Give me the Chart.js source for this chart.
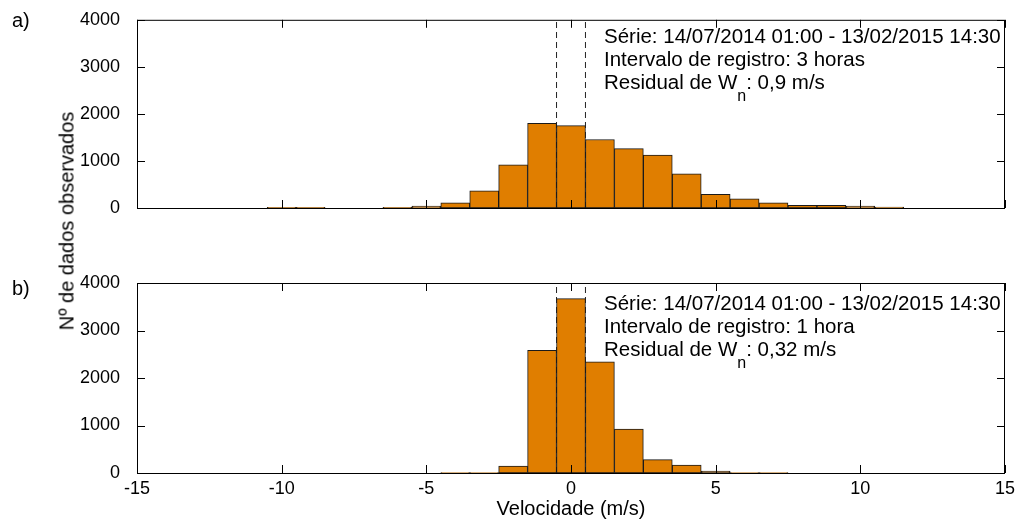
<!DOCTYPE html>
<html>
<head>
<meta charset="utf-8">
<script src="https://cdn.jsdelivr.net/npm/chart.js@4/dist/chart.umd.min.js"></script>
<style>
  html, body { margin: 0; padding: 0; background: #fff; }
  body { width: 1024px; height: 523px; position: relative; overflow: hidden;
         font-family: "Liberation Sans", Arial, sans-serif; color: #000; }
  canvas { position: absolute; left: 0; }
  #chartA { top: 0; }
  #chartB { top: 260px; }
  .note { position: absolute; left: 604px; font-size: 20.5px; line-height: 23px; white-space: nowrap; }
  .note sub { font-size: 16px; vertical-align: -12px; line-height: 0; }
  .tag { position: absolute; left: 12px; font-size: 20px; }
  #ytitle { position: absolute; left: 67px; top: 221px; font-size: 20px; white-space: nowrap;
            transform: translate(-50%, -50%) rotate(-90deg); }
</style>
</head>
<body>
<canvas id="chartA" width="1024" height="240"></canvas>
<canvas id="chartB" width="1024" height="263"></canvas>

<div class="tag" style="top:9px;">a)</div>
<div class="tag" style="top:277px;">b)</div>
<div id="ytitle">Nº de dados observados</div>

<div class="note" style="top:24px;">
  Série: 14/07/2014 01:00 - 13/02/2015 14:30<br>
  Intervalo de registro: 3 horas<br>
  Residual de W<sub>n</sub>: 0,9 m/s
</div>
<div class="note" style="top:291px;">
  Série: 14/07/2014 01:00 - 13/02/2015 14:30<br>
  Intervalo de registro: 1 hora<br>
  Residual de W<sub>n</sub>: 0,32 m/s
</div>

<script>
// bin centres (m/s), width 1
const bins = [-14, -13, -12, -11, -10, -9, -8, -7, -6, -5, -4, -3, -2, -1, 0,
              1, 2, 3, 4, 5, 6, 7, 8, 9, 10, 11, 12, 13, 14];
// a) 3 hour interval
const countsA = [0, 0, 0, 0, 12, 12, 0, 0, 12, 40, 110, 365, 915, 1800, 1750,
                 1455, 1262, 1123, 728, 291, 194, 111, 55, 55, 40, 20, 0, 0, 0];
// b) 1 hour interval
const countsB = [0, 0, 0, 0, 0, 0, 0, 0, 0, 0, 10, 10, 147, 2580, 3670,
                 2340, 925, 280, 168, 42, 10, 10, 0, 0, 0, 0, 0, 0, 0];
const dashedX = [-0.5, 0.5];
const xTicks = [-15, -10, -5, 0, 5, 10, 15];
const yTicks = [0, 1000, 2000, 3000, 4000];

Chart.defaults.font.family = '"Liberation Sans", Arial, sans-serif';
Chart.defaults.color = '#000';

const BAR_FILL = '#e07e00';

// box around the axes with inward tick marks on all four sides
const framePlugin = {
  id: 'frame',
  afterDatasetsDraw(chart) {
    const { ctx, chartArea: a, scales: { x, y } } = chart;
    const len = 8;
    ctx.save();
    ctx.strokeStyle = '#000';
    ctx.lineWidth = 1;
    ctx.strokeRect(a.left + 0.5, a.top + 0.5, a.right - a.left - 1, a.bottom - a.top);
    ctx.beginPath();
    xTicks.forEach(v => {
      const px = Math.round(x.getPixelForValue(v)) + 0.5;
      ctx.moveTo(px, a.bottom); ctx.lineTo(px, a.bottom - len);
      ctx.moveTo(px, a.top); ctx.lineTo(px, a.top + len);
    });
    yTicks.forEach(v => {
      const py = Math.round(y.getPixelForValue(v)) + 0.5;
      ctx.moveTo(a.left, py); ctx.lineTo(a.left + len, py);
      ctx.moveTo(a.right, py); ctx.lineTo(a.right - len, py);
    });
    ctx.stroke();
    ctx.restore();
  }
};

function makeChart(id, counts, opts) {
  const bars = bins.map((b, i) => ({ x: b, y: counts[i] > 0 ? counts[i] : null }));
  const lines = dashedX.map(v => ({
    type: 'line',
    data: [{ x: v, y: 0 }, { x: v, y: 4000 }],
    borderColor: '#222',
    borderWidth: 1,
    borderDash: [6, 4],
    pointRadius: 0,
    order: 2
  }));

  return new Chart(document.getElementById(id), {
    type: 'bar',
    data: {
      datasets: [{
        data: bars,
        backgroundColor: BAR_FILL,
        borderColor: '#1a1a1a',
        borderWidth: 1,
        borderSkipped: false,
        barPercentage: 1,
        categoryPercentage: 1,
        order: 1
      }, ...lines]
    },
    plugins: [framePlugin],
    options: {
      responsive: false,
      animation: false,
      layout: { padding: { left: 0, right: 19, top: opts.top, bottom: 0 } },
      plugins: { legend: { display: false }, tooltip: { enabled: false } },
      scales: {
        x: {
          type: 'linear',
          min: -15, max: 15,
          offset: false,
          grid: { display: false },
          border: { display: false },
          afterBuildTicks: s => { s.ticks = xTicks.map(v => ({ value: v })); },
          ticks: { display: opts.xLabels, padding: -3, font: { size: 18 }, callback: v => String(v) },
          title: {
            display: opts.xLabels,
            text: 'Velocidade (m/s)',
            font: { size: 20 },
            padding: { top: 0, bottom: 2 }
          },
          afterFit: s => { s.height = opts.xHeight; }
        },
        y: {
          min: 0, max: 4000,
          grid: { display: false },
          border: { display: false },
          afterBuildTicks: s => { s.ticks = yTicks.map(v => ({ value: v })); },
          ticks: { padding: 9, font: { size: 18 }, callback: v => String(v) },
          afterFit: s => { s.width = 137; }
        }
      }
    }
  });
}

makeChart('chartA', countsA, { top: 16, xHeight: 32, xLabels: false });
makeChart('chartB', countsB, { top: 23, xHeight: 50, xLabels: true });
</script>
</body>
</html>
